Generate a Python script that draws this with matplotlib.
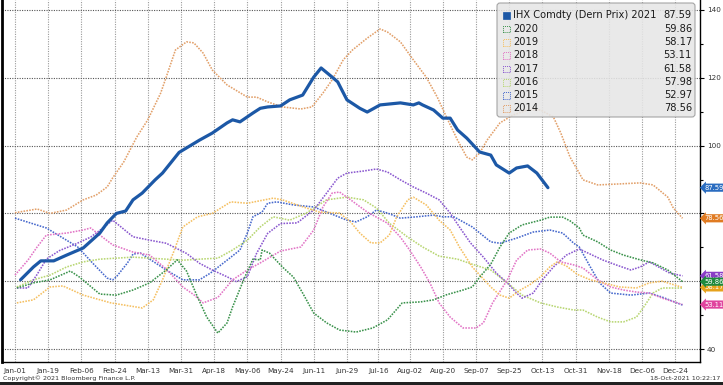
import matplotlib
matplotlib.use("Agg")
import matplotlib.pyplot as plt
from matplotlib.patches import FancyBboxPatch, Rectangle
from matplotlib.transforms import IdentityTransform, blended_transform_factory

W, H = 723, 385

# ---------------- data ----------------
tick_days = [0, 18, 36, 54, 72, 90, 108, 126, 144, 162, 180, 197, 214, 232,
             250, 268, 286, 304, 322, 340, 358]
tick_labels = ["Jan-01", "Jan-19", "Feb-06", "Feb-24", "Mar-13", "Mar-31",
               "Apr-18", "May-06", "May-24", "Jun-11", "Jun-29", "Jul-16",
               "Aug-02", "Aug-20", "Sep-07", "Sep-25", "Oct-13", "Oct-31",
               "Nov-18", "Dec-06", "Dec-24"]
y_ticks = [40, 60, 80, 100, 120, 140]
y_tick_labels = ["40", "", "", "100", "120", "140"]   # 60 and 80 sit under the value tags

d2021 = [3, 10, 14, 21, 28, 37, 46, 50, 55, 60, 64, 69, 76, 80, 89, 100, 107,
         115, 118, 122, 129, 133, 137, 144, 149, 156, 162, 166, 172, 175, 180,
         187, 191, 198, 209, 216, 219, 221, 227, 232, 236, 240, 245, 252, 258,
         261, 268, 272, 278, 283, 289]
v2021 = [60.4, 64.2, 66.0, 66.0, 67.7, 69.8, 74.2, 77.2, 80.0, 80.7, 84.0,
         86.0, 89.9, 91.9, 98.0, 101.6, 103.7, 106.7, 107.6, 107.0, 109.6,
         111.0, 111.4, 111.7, 113.5, 114.9, 120.2, 122.9, 120.2, 118.8, 113.5,
         111.0, 109.9, 112.0, 112.6, 112.0, 112.6, 112.0, 110.5, 108.1, 108.1,
         104.6, 102.2, 98.1, 97.2, 94.3, 91.9, 93.4, 94.0, 91.9, 87.59]

d2020 = [1, 10, 19, 30, 35, 46, 55, 64, 73, 82, 88, 93, 99, 104, 110, 115, 118,
         124, 129, 133, 134, 138, 140, 145, 151, 156, 162, 169, 176, 185, 194,
         202, 210, 220, 227, 234, 243, 248, 252, 258, 263, 268, 275, 285, 290,
         297, 301, 306, 308, 316, 323, 330, 339, 346, 354, 362]
v2020 = [58.0, 59.5, 60.4, 63.0, 61.2, 56.2, 55.9, 57.4, 59.5, 63.3, 66.3,
         63.0, 55.3, 49.4, 44.7, 47.7, 52.4, 60.4, 66.5, 66.3, 69.2, 68.3,
         67.1, 64.2, 61.2, 56.5, 50.6, 47.7, 45.6, 45.0, 46.2, 48.6, 53.6,
         53.9, 54.5, 56.0, 57.4, 58.3, 61.2, 65.0, 70.1, 74.2, 76.6, 78.0,
         78.9, 78.9, 77.8, 75.7, 73.6, 71.6, 69.2, 67.7, 66.3, 65.4, 63.3,
         59.86]

d2019 = [1, 10, 19, 26, 37, 52, 69, 75, 80, 86, 91, 99, 107, 117, 126, 140,
         145, 158, 165, 176, 182, 187, 193, 198, 203, 207, 213, 216, 223, 230,
         236, 241, 248, 258, 263, 268, 274, 279, 285, 290, 294, 299, 305, 312,
         319, 328, 337, 344, 351, 362]
v2019 = [53.6, 54.5, 58.3, 58.6, 55.9, 53.6, 52.1, 54.5, 60.4, 68.6, 76.0,
         79.0, 80.0, 83.4, 83.0, 84.5, 84.0, 81.6, 80.4, 80.1, 77.5, 74.2,
         71.3, 71.3, 73.6, 79.0, 84.0, 84.8, 82.5, 78.0, 75.1, 70.1, 64.2,
         58.3, 55.9, 55.0, 57.4, 58.9, 61.3, 64.2, 65.7, 64.5, 62.0, 60.4,
         59.5, 58.3, 58.0, 59.5, 60.0, 58.17]

d2018 = [0, 7, 12, 17, 28, 37, 41, 46, 53, 64, 73, 82, 91, 97, 102, 110, 118,
         126, 133, 144, 155, 162, 167, 172, 176, 182, 191, 202, 209, 214, 220,
         225, 230, 236, 243, 250, 254, 259, 267, 272, 278, 285, 290, 296, 303,
         308, 316, 323, 330, 337, 344, 351, 362]
v2018 = [61.8, 66.2, 70.1, 73.6, 74.2, 75.1, 75.7, 73.6, 70.7, 68.6, 67.7,
         63.6, 58.3, 56.0, 53.6, 55.2, 60.4, 63.3, 65.4, 68.9, 70.1, 75.1,
         81.9, 86.0, 86.3, 84.0, 80.4, 77.1, 73.0, 69.2, 64.2, 59.5, 53.6,
         49.4, 46.2, 46.2, 47.7, 53.6, 60.4, 66.2, 69.2, 69.5, 68.3, 65.7,
         64.8, 63.9, 60.4, 58.3, 57.4, 56.8, 56.5, 55.0, 53.11]

d2017 = [1, 7, 12, 17, 24, 33, 41, 46, 53, 64, 73, 82, 93, 100, 107, 115, 120,
         126, 131, 137, 144, 153, 162, 169, 175, 180, 189, 196, 202, 209, 216,
         223, 230, 236, 241, 247, 254, 261, 267, 272, 275, 281, 286, 292, 299,
         306, 319, 326, 334, 339, 344, 350, 355, 362]
v2017 = [58.0, 58.0, 62.0, 66.5, 69.0, 71.0, 73.0, 75.0, 78.0, 73.1, 72.1,
         71.2, 68.2, 65.3, 63.3, 61.3, 59.9, 61.3, 68.2, 74.1, 77.0, 77.2,
         81.0, 86.0, 90.4, 91.9, 92.5, 93.1, 92.2, 89.9, 87.8, 86.0, 84.0,
         80.1, 76.0, 71.3, 67.1, 62.4, 59.5, 56.5, 55.0, 56.5, 60.4, 64.2,
         67.7, 69.5, 66.2, 64.8, 63.3, 64.2, 65.7, 63.9, 62.4, 61.58]

d2016 = [1, 10, 19, 28, 37, 46, 55, 64, 73, 82, 91, 100, 110, 118, 126, 133,
         140, 149, 158, 169, 180, 189, 196, 203, 213, 221, 230, 240, 248, 258,
         267, 275, 285, 294, 303, 308, 316, 323, 330, 337, 341, 346, 351, 362]
v2016 = [58.3, 60.4, 61.8, 64.2, 65.7, 66.5, 66.8, 67.1, 66.8, 66.5, 66.2,
         66.5, 66.8, 69.2, 72.1, 76.0, 79.0, 78.0, 80.1, 84.0, 84.8, 84.0,
         81.6, 77.1, 73.0, 70.1, 67.4, 66.5, 65.0, 63.3, 59.5, 55.9, 53.6,
         52.4, 51.5, 51.5, 49.4, 48.0, 48.0, 49.4, 52.4, 56.5, 58.0, 57.98]

d2015 = [0, 17, 34, 42, 50, 53, 55, 61, 64, 68, 82, 91, 100, 106, 115, 122,
         126, 129, 134, 137, 142, 151, 162, 169, 180, 185, 191, 196, 202, 209,
         218, 227, 232, 238, 248, 258, 263, 272, 281, 290, 297, 303, 306, 312,
         317, 323, 334, 344, 351, 362]
v2015 = [78.6, 75.7, 70.1, 65.4, 60.9, 60.4, 61.3, 65.4, 68.0, 68.3, 63.3,
         60.4, 60.4, 62.4, 66.2, 69.2, 74.2, 79.0, 80.4, 83.0, 83.4, 82.5,
         81.9, 80.4, 78.0, 77.5, 79.0, 81.0, 80.1, 78.6, 79.0, 79.5, 79.0,
         79.0, 76.0, 71.6, 71.2, 72.7, 74.5, 75.1, 74.2, 71.2, 70.1, 64.2,
         59.5, 56.5, 55.9, 56.5, 55.3, 52.97]

d2014 = [0, 12, 19, 28, 37, 44, 50, 53, 59, 66, 72, 79, 82, 87, 93, 97, 102,
         107, 115, 126, 131, 137, 145, 155, 161, 167, 172, 178, 183, 191, 198,
         202, 209, 216, 223, 229, 234, 240, 245, 248, 252, 256, 263, 270, 278,
         285, 292, 296, 301, 306, 308, 316, 328, 339, 346, 354, 357, 362]
v2014 = [80.2, 81.3, 80.0, 81.0, 84.0, 85.4, 87.8, 90.5, 95.2, 102.5, 107.6,
         115.5, 120.2, 128.2, 130.6, 130.3, 127.3, 122.3, 117.9, 114.3, 114.3,
         112.9, 111.4, 110.8, 111.4, 115.5, 119.4, 125.3, 128.2, 131.7, 134.4,
         133.5, 130.6, 125.3, 120.2, 114.3, 108.4, 101.6, 96.6, 95.8, 97.8,
         101.6, 106.7, 109.0, 110.5, 110.5, 108.4, 103.7, 96.6, 91.9, 89.9,
         88.4, 88.7, 89.0, 88.4, 84.8, 81.6, 78.56]

legend_names = ["IHX Comdty (Dern Prix) 2021", "2020", "2019", "2018", "2017",
                "2016", "2015", "2014"]
legend_values = ["87.59", "59.86", "58.17", "53.11", "61.58", "57.98", "52.97",
                 "78.56"]

# ---------------- style ----------------
c2021 = "#1c58a6"
series = [
    (d2014, v2014, "#e2a06a"),
    (d2015, v2015, "#4668cc"),
    (d2016, v2016, "#b8d672"),
    (d2017, v2017, "#8a58cf"),
    (d2018, v2018, "#e275c6"),
    (d2019, v2019, "#f5c062"),
    (d2020, v2020, "#3a924b"),
]
legend_colors = [c2021, "#3a924b", "#f5c062", "#e275c6", "#8a58cf", "#b8d672",
                 "#4668cc", "#e2a06a"]

plt.rcParams["font.family"] = ["DejaVu Sans"]

fig = plt.figure(figsize=(W / 100, H / 100), dpi=100)
fig.patch.set_facecolor("white")

ax_l, ax_r, ax_t, ax_b = 2, 700, 0, 362
ax = fig.add_axes([ax_l / W, 1 - ax_b / H, (ax_r - ax_l) / W, (ax_b - ax_t) / H])

def day_of_px(x):
    return (x - 15) / 1.844

def val_of_px(y):
    return 140 - (y - 10) / 3.39

ax.set_xlim(day_of_px(ax_l), day_of_px(ax_r))
ax.set_ylim(val_of_px(ax_b), val_of_px(ax_t))

for d, v, c in series:
    ax.plot(d, v, color=c, lw=1.15, ls=(0, (1, 0.8)), zorder=3)
ax.plot(d2021, v2021, color=c2021, lw=2.3, solid_capstyle="round",
        solid_joinstyle="round", zorder=5)

# grid
for td in tick_days:
    ax.axvline(td, color="#9a9a9a", lw=0.8, ls=(0, (1, 1.2)), zorder=1)
for yt in y_ticks:
    ax.axhline(yt, color="#555555", lw=0.8, ls=(0, (1, 1.2)), zorder=1)

ax.set_xticks(tick_days)
ax.set_xticklabels(tick_labels, fontsize=5.2, color="#333333")
ax.tick_params(axis="x", length=0, pad=4)
ax.yaxis.tick_right()
ax.set_yticks(y_ticks)
ax.set_yticklabels(y_tick_labels, fontsize=5.2, color="#333333")
ax.set_yticks([50, 70, 90, 110, 130], minor=True)
ax.tick_params(axis="y", which="major", length=3, width=0.8, pad=2, color="black")
ax.tick_params(axis="y", which="minor", length=2, width=0.8, color="black")

ax.spines["top"].set_visible(False)
ax.spines["left"].set_color("black")
ax.spines["left"].set_linewidth(2)
ax.spines["right"].set_color("black")
ax.spines["right"].set_linewidth(1)
ax.spines["bottom"].set_color("black")
ax.spines["bottom"].set_linewidth(1)

# value tags on right axis
tr = blended_transform_factory(ax.transAxes, ax.transData)
tags = [
    (87.59, "87.59", "#2a6cc0"),
    (78.56, "78.56", "#e07b22"),
    (53.11, "53.11", "#e0449e"),
    (61.58, "61.58", "#8a3cc6"),
    (58.17, "58.17", "#e6a21c"),
    (59.86, "59.86", "#1f8a3e"),
]
for v, lab, c in tags:
    ax.text(1.006, v, lab, transform=tr, ha="left", va="center", fontsize=4.9,
            color="white", clip_on=False, zorder=10,
            bbox=dict(boxstyle="larrow,pad=0.16", fc=c, ec="none"))

# legend box (pixel coordinates, y from top)
ident = IdentityTransform()
def P(x, y):
    return (x, H - y)

lx0, ly0, lx1, ly1 = 497, 3, 695, 117
box = FancyBboxPatch(P(lx0, ly1), lx1 - lx0, ly1 - ly0,
                     boxstyle="round,pad=0,rounding_size=3",
                     transform=ident, fc="#e6e6e6", ec="#9a9a9a", lw=0.8,
                     alpha=0.88, zorder=20)
fig.patches.append(box)
row_y = [15, 28.5, 42, 55, 68.5, 82, 95, 108]
for i, (name, val, c) in enumerate(zip(legend_names, legend_values, legend_colors)):
    yy = row_y[i]
    if i == 0:
        sq = Rectangle(P(503, yy + 3.5), 6.5, 6.5, transform=ident, fc=c,
                       ec=c, lw=0.5, zorder=21)
    else:
        sq = Rectangle(P(503, yy + 3.5), 6.5, 6.5, transform=ident, fc="none",
                       ec=c, lw=0.7, ls=(0, (1, 1)), zorder=21)
    fig.patches.append(sq)
    fig.text(513 / W, 1 - yy / H, name, fontsize=7.1, color="#1a1a1a",
             ha="left", va="center", zorder=22)
    fig.text(692 / W, 1 - yy / H, val, fontsize=7.1, color="#1a1a1a",
             ha="right", va="center", zorder=22)

# footer
fig.text(3 / W, 1 - 378 / H, "Copyright\u00a9 2021 Bloomberg Finance L.P.",
         fontsize=4.6, color="#333333", ha="left", va="center")
fig.text(720 / W, 1 - 378 / H, "18-Oct-2021 10:22:17", fontsize=4.6,
         color="#333333", ha="right", va="center")
fig.patches.append(Rectangle((0, 0), W, 3, transform=ident, fc="#222222",
                             ec="none", zorder=30))

fig.savefig("out.png", dpi=100)
